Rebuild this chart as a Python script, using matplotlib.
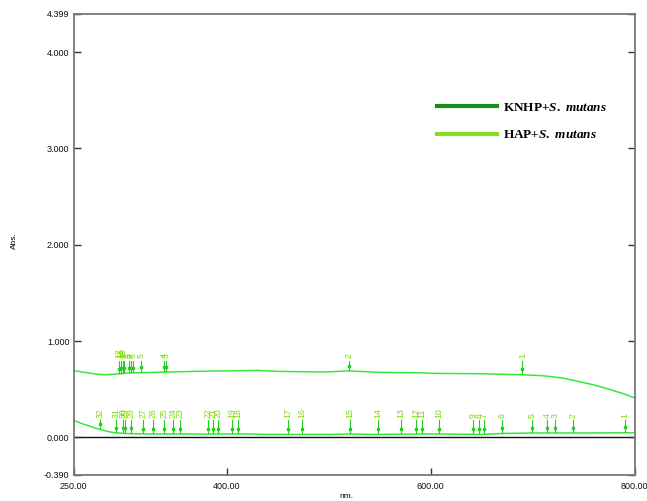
import numpy as np
import matplotlib
matplotlib.use("Agg")
import matplotlib.pyplot as plt
from matplotlib.lines import Line2D

plt.rcParams['font.family'] = ['Liberation Sans', 'DejaVu Sans']
plt.rcParams['mathtext.fontset'] = 'custom'
plt.rcParams['mathtext.it'] = 'Liberation Serif:italic:bold'
plt.rcParams['mathtext.rm'] = 'Liberation Serif:bold'

# ---- data ----
upper_nm = [250, 255, 260, 270, 280, 290, 300, 310, 330, 350, 370, 400, 430, 450,
            480, 500, 510, 520, 530, 550, 590, 600, 650, 690, 710, 730, 745, 760,
            775, 790, 800]
upper_abs = [0.69, 0.685, 0.675, 0.66, 0.65, 0.655, 0.665, 0.67, 0.675, 0.68, 0.685,
             0.69, 0.695, 0.685, 0.68, 0.68, 0.685, 0.69, 0.685, 0.675, 0.67, 0.665,
             0.66, 0.65, 0.64, 0.615, 0.58, 0.545, 0.5, 0.45, 0.41]

lower_nm = [250, 255, 260, 265, 270, 275, 280, 285, 290, 300, 320, 350, 380, 400,
            420, 440, 500, 520, 540, 600, 650, 670, 700, 750, 800]
lower_abs = [0.175, 0.155, 0.135, 0.12, 0.10, 0.085, 0.07, 0.058, 0.048, 0.04, 0.035,
             0.035, 0.033, 0.035, 0.035, 0.03, 0.03, 0.035, 0.03, 0.035, 0.03, 0.04,
             0.045, 0.045, 0.048]

upper_peak_labels = [str(i) for i in range(1, 13)]
upper_peak_nm = [690, 520, 340.5, 338.8, 316.3, 307.8, 306.2, 304.5, 299.6, 298.0,
                 296.4, 294.7]

lower_peak_labels = [str(i) for i in range(1, 33)]
lower_peak_nm = [790.8, 739.5, 721.9, 714.3, 699.6, 670.2, 652.5, 647.6, 641.8, 608.1,
                 591.8, 585.3, 570.9, 548.6, 521.2, 474.1, 459.8, 411.4, 404.9, 391.5,
                 386.9, 382.0, 354.5, 347.6, 338.8, 328.0, 318.2, 306.2, 300.3, 298.6,
                 291.5, 275.8]

legend_labels = [r'KNHP+$\mathit{S.\ mutans}$', r'HAP+$\mathit{S.\ mutans}$']
legend_colors = ['#1a8c1a', '#88dd22']

x_ticks = [250, 400, 600, 800]
x_tick_labels = ['250.00', '400.00', '600.00', '800.00']
y_ticks = [-0.390, 0, 1, 2, 3, 4, 4.399]
y_tick_labels = ['-0.390', '0.000', '1.000', '2.000', '3.000', '4.000', '4.399']

# ---- figure ----
fig = plt.figure(figsize=(6.47, 5.01), dpi=100)
ax = fig.add_axes([0.1139, 0.0521, 0.9807 - 0.1139, 0.9727 - 0.0521])
ax.set_xlim(250, 800)
ax.set_ylim(-0.390, 4.399)

curve_color = '#38e838'
mark_color = '#1fd01f'
label_color = '#7cdc00'

ax.axhline(0, color='#111111', lw=1.0, zorder=1)
ax.plot(upper_nm, upper_abs, color=curve_color, lw=1.1, zorder=2)
ax.plot(lower_nm, lower_abs, color=curve_color, lw=1.1, zorder=2)

def draw_peaks(nms, labels, cx, cy, top, lab_y):
    for nm, lab in zip(nms, labels):
        v = float(np.interp(nm, cx, cy))
        ax.plot([nm, nm], [v + 0.01, top], color=mark_color, lw=0.8, zorder=3)
        ax.plot([nm], [v + 0.055], marker='s', ms=1.5, color=mark_color,
                mec=mark_color, zorder=3)
        ax.text(nm, lab_y, lab, rotation=90, ha='center', va='bottom',
                fontsize=6.3, color=label_color, zorder=4)

draw_peaks(upper_peak_nm, upper_peak_labels, upper_nm, upper_abs, 0.79, 0.825)
draw_peaks(lower_peak_nm, lower_peak_labels, lower_nm, lower_abs, 0.18, 0.205)

ax.set_xticks(x_ticks)
ax.set_xticklabels(x_tick_labels)
ax.set_yticks(y_ticks)
ax.set_yticklabels(y_tick_labels)
ax.tick_params(axis='both', direction='in', length=5, width=1, color='#333333',
               labelsize=6.5, labelcolor='#111111', right=True)
ax.tick_params(axis='x', pad=5)
ax.tick_params(axis='y', pad=3)
for s in ax.spines.values():
    s.set_color('#777777')
    s.set_linewidth(1.3)

ax.set_xlabel('nm.', fontsize=6)
ax.xaxis.set_label_coords(0.487, -0.046)
ax.xaxis.label.set_va('center')
ax.set_ylabel('Abs.', fontsize=6)
ax.yaxis.set_label_coords(-0.105, 0.509)
ax.yaxis.label.set_va('center')

handles = [Line2D([0], [0], color=c, lw=3) for c in legend_colors]
leg = ax.legend(handles, legend_labels, loc='upper left', bbox_to_anchor=(0.626, 0.835),
                frameon=False, handlelength=4.6, handletextpad=0.45, labelspacing=1.15,
                prop={'family': 'Liberation Serif', 'weight': 'bold', 'size': 9.5})

fig.savefig('out.png', dpi=100)
